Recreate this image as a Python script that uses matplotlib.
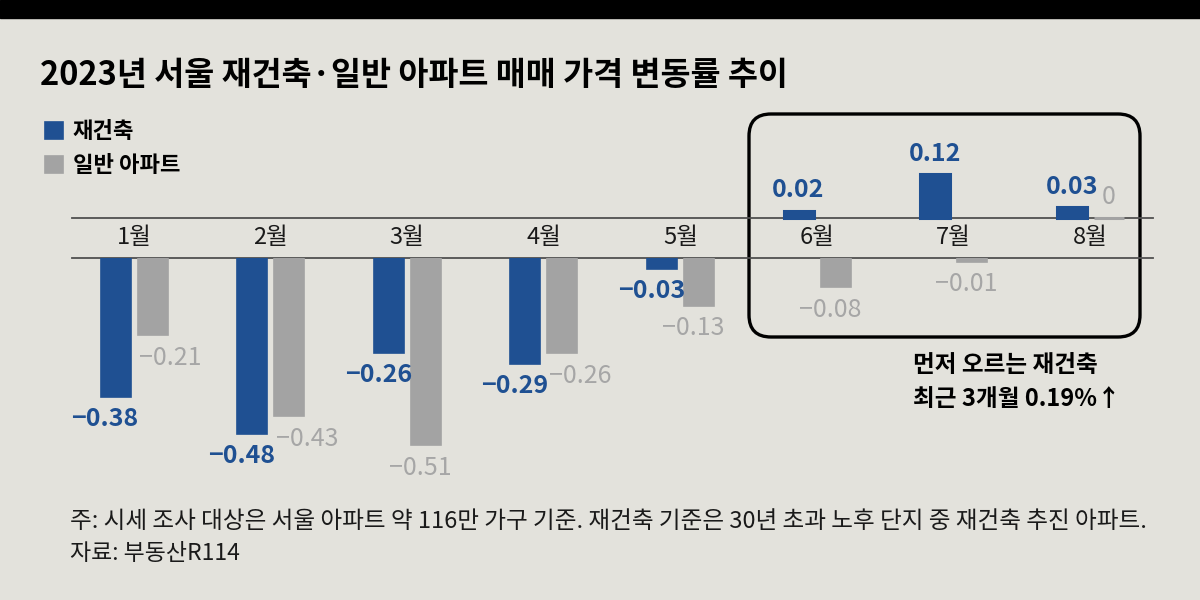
import numpy as np
import matplotlib.pyplot as plt
from matplotlib.patches import FancyBboxPatch, Rectangle

plt.rcParams['font.family'] = ['Noto Sans CJK KR', 'DejaVu Sans']

months = ['1월', '2월', '3월', '4월', '5월', '6월', '7월', '8월']
rebuild = [-0.38, -0.48, -0.26, -0.29, -0.03, 0.02, 0.12, 0.03]
general = [-0.21, -0.43, -0.51, -0.26, -0.13, -0.08, -0.01, 0]
series_names = ['재건축', '일반 아파트']

title = '2023년 서울 재건축·일반 아파트 매매 가격 변동률 추이'
callout = '먼저 오르는 재건축\n최근 3개월 0.19%↑'
note = ('주: 시세 조사 대상은 서울 아파트 약 116만 가구 기준. '
        '재건축 기준은 30년 초과 노후 단지 중 재건축 추진 아파트.')
source = '자료: 부동산R114'

BG = '#e3e2dc'
BLUE = '#1f5092'
GRAY = '#a3a3a3'
GRAY_TXT = '#a6a6a6'
LINE = '#505050'

W, H = 1200, 600
scale = 367.0   # pixels per 1%p
step = 136.6    # pixels between months
x0 = 134        # pixel centre of first month
bw = 30 / step
off = 18.5 / step


def fig_box(left, top, right, bottom):
    return [left / W, 1 - bottom / H, (right - left) / W, (bottom - top) / H]


def fmt(v):
    return ('%g' % v).replace('-', '−')


fig = plt.figure(figsize=(12, 6), dpi=100, facecolor=BG)

# overlay in pixel coordinates for the decorations
ov = fig.add_axes([0, 0, 1, 1])
ov.set_xlim(0, W)
ov.set_ylim(H, 0)
ov.axis('off')
ov.add_patch(Rectangle((0, 0), W, 18, color='black'))
ov.text(40, 76, title, fontsize=23.5, fontweight='bold', va='center', ha='left')
ov.add_patch(FancyBboxPatch((749 + 22, 114 + 22), 391 - 44, 223 - 44,
                            boxstyle='round,pad=22', fill=False,
                            edgecolor='black', linewidth=2.4))
ov.text(913, 382, callout, fontsize=17, fontweight='bold', va='center',
        ha='left', linespacing=1.5)
ov.text(70, 521, note, fontsize=17, va='center', ha='left', color='#1a1a1a')
ov.text(70, 554, source, fontsize=16.5, va='center', ha='left', color='#1a1a1a')

xlim = (-x0 / step, (W - x0) / step)
ax_pos = fig.add_axes(fig_box(0, 100, W, 218))
ax_neg = fig.add_axes(fig_box(0, 258, W, 520))
ax_pos.set_ylim(0, 118 / scale)
ax_neg.set_ylim(-262 / scale, 0)
for ax in (ax_pos, ax_neg):
    ax.set_xlim(*xlim)
    ax.axis('off')
    ax.axhline(0, xmin=72 / W, xmax=1153 / W, color=LINE, linewidth=1.3,
               clip_on=False, zorder=1)

x = np.arange(len(months))
rb = np.array(rebuild)
gn = np.array(general)
handles = []
for vals, shift, color, name in [(rb, -off, BLUE, series_names[0]),
                                 (gn, off, GRAY, series_names[1])]:
    pos = vals >= 0
    ax_pos.bar(x[pos] + shift, vals[pos], width=bw, color=color,
               edgecolor=color, linewidth=2.2, zorder=2, clip_on=False)
    h = ax_neg.bar(x[~pos] + shift, vals[~pos], width=bw, color=color,
                   edgecolor=color, linewidth=1.2, zorder=2, label=name)
    handles.append(h)

for i, v in enumerate(rebuild):
    if v >= 0:
        ax_pos.annotate(fmt(v), (i - off, v), xytext=(0, 6),
                        textcoords='offset points', ha='center', va='bottom',
                        fontsize=18, fontweight='bold', color=BLUE)
    else:
        ax_neg.annotate(fmt(v), (i - off, v), xytext=(-7.5, -7),
                        textcoords='offset points', ha='center', va='top',
                        fontsize=18, fontweight='bold', color=BLUE)
for i, v in enumerate(general):
    if v >= 0:
        ax_pos.annotate(fmt(v), (i + off, v), xytext=(0, 6),
                        textcoords='offset points', ha='center', va='bottom',
                        fontsize=18, color=GRAY_TXT)
    else:
        # push the label clear of a deeper blue bar next to it
        dx = 13 if rebuild[i] < v else -4
        ax_neg.annotate(fmt(v), (i + off, v), xytext=(dx, -7),
                        textcoords='offset points', ha='center', va='top',
                        fontsize=18, color=GRAY_TXT)

for i, m in enumerate(months):
    ax_pos.annotate(m, (i, 0), xytext=(0, -14), textcoords='offset points',
                    ha='center', va='center', fontsize=17, color='#1a1a1a')

fig.legend(handles, series_names, loc='upper left',
           bbox_to_anchor=(45 / W, 1 - 120 / H), frameon=False,
           prop={'size': 16, 'weight': 'bold'}, handlelength=0.8,
           handleheight=0.8, handletextpad=0.45, labelspacing=0.5,
           borderpad=0, borderaxespad=0)

fig.savefig('out.png', dpi=100, facecolor=BG)
